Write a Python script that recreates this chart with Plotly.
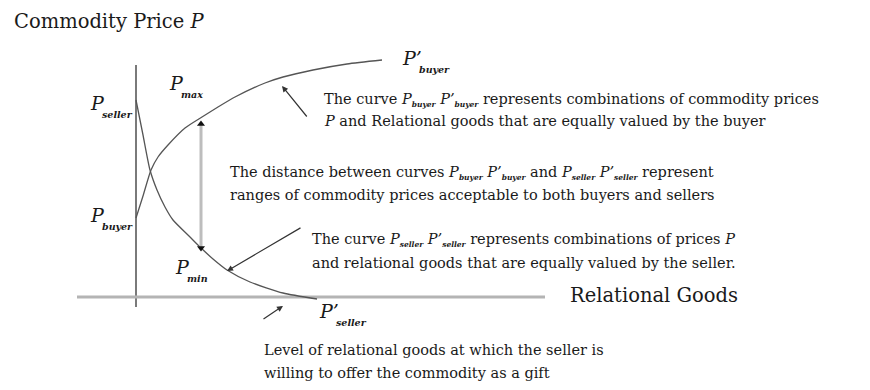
import plotly.graph_objects as go

# Curves (x = relational goods, y = commodity price)
BUYER_X = [0, 7, 15, 22, 32, 49, 66, 82, 99, 129, 147, 177, 211, 246]
BUYER_Y = [79, 101, 127, 140, 152, 169, 180, 190, 200, 214, 220, 227, 233, 237]
SELLER_X = [0, 7, 14, 21, 29, 37, 54, 64, 77, 91, 114, 147, 181]
SELLER_Y = [197, 162, 127, 107, 90, 77, 60, 50, 38, 27, 15, 4, -2]

# Axis extents
PRICE_AXIS_Y = [-10, 232]
GOODS_AXIS_X = [-59, 409]

# Range of acceptable prices (P_min .. P_max) at one level of relational goods
RANGE_X = 65
RANGE_Y = [45, 177]

FONT = "DejaVu Serif"
TEXT_COLOR = "#1a1a1a"
CURVE_COLOR = "#555555"
BODY = 14.5

fig = go.Figure()

fig.add_trace(go.Scatter(x=[0, 0], y=PRICE_AXIS_Y, mode="lines",
                         line=dict(color="#7a7a7a", width=2), hoverinfo="skip"))
fig.add_trace(go.Scatter(x=GOODS_AXIS_X, y=[0, 0], mode="lines",
                         line=dict(color="#b4b4b4", width=3), hoverinfo="skip"))
fig.add_trace(go.Scatter(x=BUYER_X, y=BUYER_Y, mode="lines",
                         line=dict(color=CURVE_COLOR, width=1.3, shape="spline",
                                   smoothing=0.6),
                         hoverinfo="skip"))
fig.add_trace(go.Scatter(x=SELLER_X, y=SELLER_Y, mode="lines",
                         line=dict(color=CURVE_COLOR, width=1.3, shape="spline",
                                   smoothing=0.6),
                         hoverinfo="skip"))

# double arrow between the curves
fig.add_trace(go.Scatter(x=[RANGE_X, RANGE_X], y=[RANGE_Y[0] + 5, RANGE_Y[1] - 5],
                         mode="lines", line=dict(color="#bdbdbd", width=3),
                         hoverinfo="skip"))
fig.add_trace(go.Scatter(x=[RANGE_X, RANGE_X], y=[RANGE_Y[1] - 4, RANGE_Y[0] + 4],
                         mode="markers",
                         marker=dict(symbol=["triangle-up", "triangle-down"],
                                     size=7, color="#111111"),
                         hoverinfo="skip"))


def text(x, y, s, size=BODY, anchor="left"):
    fig.add_annotation(x=x, y=y, text=s, showarrow=False, xanchor=anchor,
                       yanchor="middle", font=dict(family=FONT, size=size,
                                                   color=TEXT_COLOR))


def label(x, y, sub, prime=False):
    p = "<i>P’</i>" if prime else "<i>P</i>"
    text(x, y, p, size=19)
    dx = 17 if prime else 12
    text(x + dx, y - 11, f"<b><i>{sub}</i></b>", size=9.5)


def arrow(x0, y0, x1, y1):
    fig.add_annotation(x=x1, y=y1, ax=x0, ay=y0, xref="x", yref="y",
                       axref="x", ayref="y", text="", showarrow=True,
                       arrowhead=2, arrowsize=1, arrowwidth=1.2,
                       arrowcolor="#333333")


def s(t):
    return f"<sub><span style='font-size:7.5px'><b><i>{t}</i></b></span></sub>"


text(-124, 276, "Commodity Price <i>P</i>", size=19.5)
text(432, 2, "Relational Goods", size=19.5)

label(-48, 194, "seller")
label(31, 214, "max")
label(-48, 82, "buyer")
label(37, 30, "min")
label(264, 239, "buyer", prime=True)
label(181, -14, "seller", prime=True)

text(186, 197, f"The curve <i>P</i>{s('buyer')} <i>P’</i>{s('buyer')} represents combinations of commodity prices")
text(186, 176, "<i>P</i> and Relational goods that are equally valued by the buyer")
text(92, 124, f"The distance between curves <i>P</i>{s('buyer')} <i>P’</i>{s('buyer')} and <i>P</i>{s('seller')} <i>P’</i>{s('seller')} represent")
text(92, 102, "ranges of commodity prices acceptable to both buyers and sellers")
text(174, 57, f"The curve <i>P</i>{s('seller')} <i>P’</i>{s('seller')} represents combinations of prices <i>P</i>")
text(174, 34, "and relational goods that are equally valued by the seller.")
text(126, -53, "Level of relational goods at which the seller is")
text(126, -76, "willing to offer the commodity as a gift")

arrow(172, 179, 146, 211)
arrow(166, 70, 91, 26)
arrow(126, -23, 147, -9)

# the page body has an 8px margin, so the ranges are shifted by 8 px
fig.update_layout(
    width=870, height=390,
    margin=dict(l=0, r=0, t=0, b=0),
    paper_bgcolor="white", plot_bgcolor="white",
    showlegend=False,
    xaxis=dict(range=[-128, 742], visible=False, fixedrange=True),
    yaxis=dict(range=[-101, 289], visible=False, fixedrange=True),
)

fig.write_html("out.html")
